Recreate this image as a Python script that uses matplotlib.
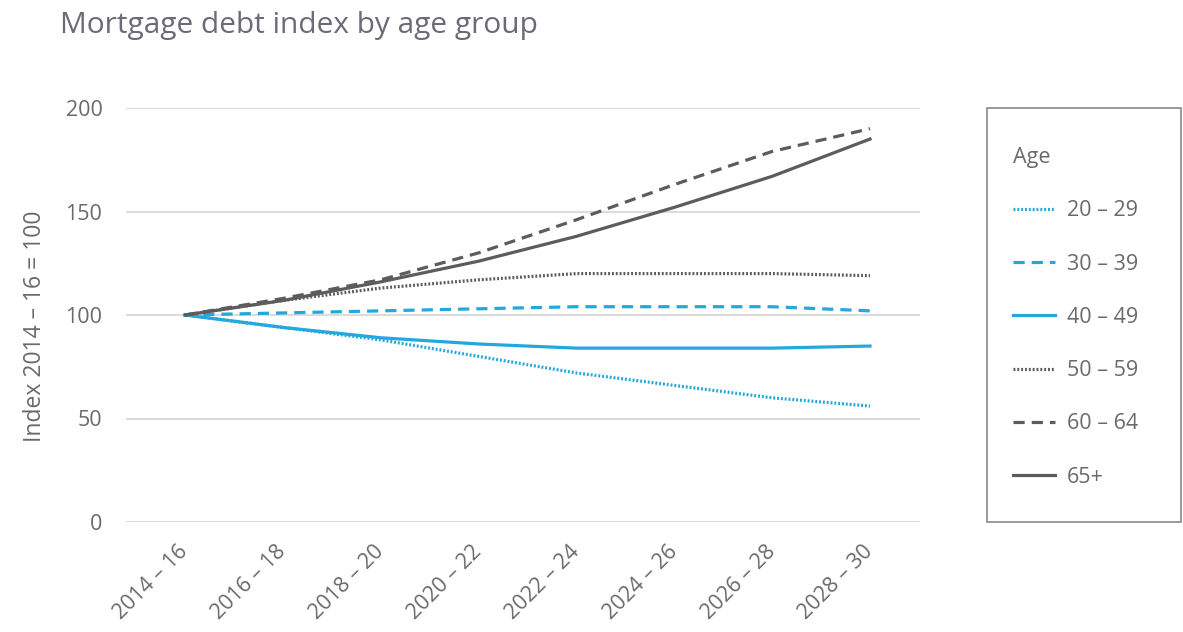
import matplotlib
matplotlib.use("Agg")
import matplotlib.pyplot as plt
from matplotlib.patches import Rectangle

periods = ["2014 – 16", "2016 – 18", "2018 – 20", "2020 – 22", "2022 – 24", "2024 – 26", "2026 – 28", "2028 – 30"]
age_20_29 = [100, 94, 88, 80, 72, 66, 60, 56]
age_30_39 = [100, 101, 102, 103, 104, 104, 104, 102]
age_40_49 = [100, 94, 89, 86, 84, 84, 84, 85]
age_50_59 = [100, 107, 113, 117, 120, 120, 120, 119]
age_60_64 = [100, 108, 117, 130, 146, 163, 179, 190]
age_65p = [100, 107, 116, 126, 138, 152, 167, 185]
yticks = [0, 50, 100, 150, 200]

plt.rcParams['font.family'] = ['Open Sans', 'DejaVu Sans']
BLUE = "#22a8dc"
GREY = "#5c5c5c"
TXT = "#6a6a6a"
W, H = 1183, 632
FS = 15.5

fig = plt.figure(figsize=(11.83, 6.32), dpi=100)
ax = fig.add_axes([126/W, 1-522/H, (920-126)/W, (522-108)/H])

x = list(range(len(periods)))
lw = 2.3
series = [
    ("20 – 29", age_20_29, BLUE, (0, (0.6, 0.6))),
    ("30 – 39", age_30_39, BLUE, (0, (3.5, 2.2))),
    ("40 – 49", age_40_49, BLUE, "-"),
    ("50 – 59", age_50_59, GREY, (0, (0.6, 0.6))),
    ("60 – 64", age_60_64, GREY, (0, (3.5, 2.2))),
    ("65+", age_65p, GREY, "-"),
]
handles = []
for label, vals, col, ls in series:
    h, = ax.plot(x, vals, color=col, linestyle=ls, linewidth=lw, label=label, zorder=3)
    handles.append(h)

ax.set_ylim(0, 200)
ax.set_xlim(-0.603, 7.511)
ax.set_yticks(yticks)
ax.grid(axis='y', color="#dcdcdc", linewidth=1.5)
ax.set_axisbelow(True)
for s in ax.spines.values():
    s.set_visible(False)
ax.tick_params(axis='both', length=0, labelsize=FS, labelcolor=TXT)
ax.tick_params(axis='y', pad=17)
ax.set_xticks(x)
ax.set_xticklabels(periods, rotation=45, ha='right', va='center', rotation_mode='anchor', fontsize=FS)
ax.tick_params(axis='x', pad=19)
ax.set_ylabel("Index 2014 – 16 = 100", fontsize=16.5, color=TXT)
ax.yaxis.set_label_coords(-(126-47)/(920-126), (522-326)/(522-108))

fig.text(60/W, 1-25/H, "Mortgage debt index by age group", fontsize=21.5, color="#6b6b78", va='center', ha='left')

fig.add_artist(Rectangle((987/W, 1-522/H), (1181-987)/W, (522-108)/H, transform=fig.transFigure,
                         fill=False, edgecolor="#8a8a8a", linewidth=1.2))

leg = fig.legend(handles=handles, loc='upper left', bbox_to_anchor=(1013/W, 1-147/H),
                 title="Age", frameon=False, fontsize=FS,
                 labelspacing=1.5, handlelength=1.95, handletextpad=0.55,
                 borderpad=0, borderaxespad=0)
leg._legend_box.align = "left"
leg.get_title().set_color(TXT)
leg.get_title().set_fontsize(FS)
for t in leg.get_texts():
    t.set_color(TXT)

fig.savefig("out.png", dpi=100)
